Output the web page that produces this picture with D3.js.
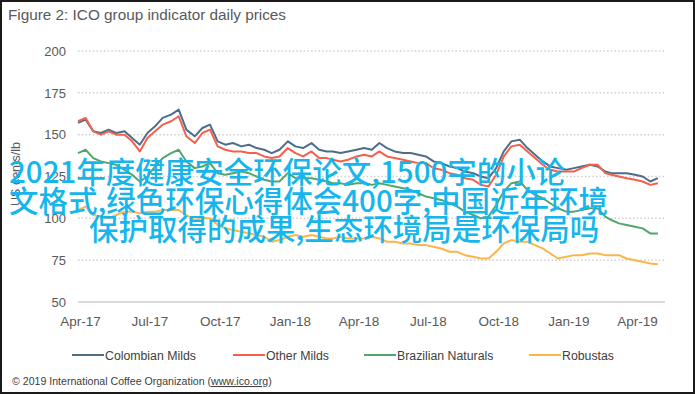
<!DOCTYPE html>
<html>
<head>
<meta charset="utf-8">
<script src="https://cdn.jsdelivr.net/npm/d3@7"></script>
<style>
  html, body { margin: 0; padding: 0; background: #fff; }
  svg { display: block; font-family: "Liberation Sans", Arial, sans-serif; }
</style>
</head>
<body>
<div id="chart"></div>
<script>
// ICO group indicator prices, US cents/lb (~10 day steps)
var dates = [
  "2017-04-01","2017-04-11","2017-04-21","2017-05-01","2017-05-11","2017-05-21",
  "2017-06-01","2017-06-11","2017-06-21","2017-07-01","2017-07-11","2017-07-21",
  "2017-08-01","2017-08-11","2017-08-21","2017-09-01","2017-09-11","2017-09-21",
  "2017-10-01","2017-10-11","2017-10-21","2017-11-01","2017-11-11","2017-11-21",
  "2017-12-01","2017-12-11","2017-12-21","2018-01-01","2018-01-11","2018-01-21",
  "2018-02-01","2018-02-11","2018-02-21","2018-03-01","2018-03-11","2018-03-21",
  "2018-04-01","2018-04-11","2018-04-21","2018-05-01","2018-05-11","2018-05-21",
  "2018-06-01","2018-06-11","2018-06-21","2018-07-01","2018-07-11","2018-07-21",
  "2018-08-01","2018-08-11","2018-08-21","2018-09-01","2018-09-11","2018-09-21",
  "2018-10-01","2018-10-11","2018-10-21","2018-11-01","2018-11-11","2018-11-21",
  "2018-12-01","2018-12-11","2018-12-21","2019-01-01","2019-01-11","2019-01-21",
  "2019-02-01","2019-02-11","2019-02-21","2019-03-01","2019-03-11","2019-03-21",
  "2019-04-01","2019-04-11","2019-04-21","2019-05-01"
];
var colombianMilds = [
  157,159,152, 151,153,151, 152,148,144, 151,155,160,
  162,165,153, 149,154,156, 146,144,145, 143,144,142,
  141,139,141, 146,143,142, 145,141,140, 140,139,140,
  141,142,141, 145,142,140, 139,139,138, 137,134,133,
  131,130,128, 127,125,124, 130,140,146, 147,142,138,
  134,131,130, 129,130,131, 132,131,128, 127,127,127,
  126,125,122, 124
];
var otherMilds = [
  158,160,152, 150,152,150, 150,146,140, 148,152,156,
  158,161,149, 145,151,153, 143,141,140, 140,139,139,
  137,136,137, 142,139,137, 140,136,136, 135,134,135,
  137,138,137, 140,137,136, 135,134,133, 133,130,129,
  127,126,124, 123,120,119, 126,137,143, 144,140,136,
  132,129,128, 128,128,130, 132,132,127, 126,125,124,
  123,122,120, 121
];
var brazilianNaturals = [
  139,141,136, 134,133,132, 129,126,122, 125,131,136,
  139,141,134, 130,131,133, 127,126,127, 128,127,125,
  123,122,122, 127,124,124, 124,123,122, 121,121,120,
  121,121,120, 121,120,119, 118,117,115, 113,112,111,
  109,107,104, 102,100,101, 108,116,121, 122,117,114,
  112,109,106, 104,104,105, 106,106,101, 99,97,96,
  95,94,91, 91
];
var robustas = [
  105,107,102, 101,100,102, 104,104,103, 104,104,105,
  105,105,102, 99,100,100, 96,94,93, 92,91,90,
  89,86,87, 89,90,89, 90,89,88, 88,89,88,
  88,88,89, 88,86,86, 85,85,84, 84,83,82,
  80,80,78, 77,76,76, 80,85,87, 86,86,84,
  82,79,76, 77,78,78, 79,79,78, 78,78,76,
  75,74,73, 72.5
];
var seriesNames = ["Colombian Milds", "Other Milds", "Brazilian Naturals", "Robustas"];
var seriesColors = ["#4E6E88", "#F4604B", "#52A66C", "#FDB549"];
var yTicks = [50, 75, 100, 125, 150, 175, 200];
var xTickDates = ["2017-04-01","2017-07-01","2017-10-01","2018-01-01","2018-04-01",
                  "2018-07-01","2018-10-01","2019-01-01","2019-04-01"];
var xTickLabels = ["Apr-17","Jul-17","Oct-17","Jan-18","Apr-18","Jul-18","Oct-18","Jan-19","Apr-19"];
var overlayLines = [
  "2021年度健康安全环保论文,1500字的小论",
  "文格式,绿色环保心得体会400字,中国近年环境",
  "保护取得的成果,生态环境局是环保局吗"
];

var W = 695, H = 394;
var parse = d3.timeParse("%Y-%m-%d");
var svg = d3.select("#chart").append("svg").attr("width", W).attr("height", H);

svg.append("rect").attr("x", 1).attr("y", 1).attr("width", W - 2).attr("height", H - 2)
   .attr("fill", "#fff").attr("stroke", "#1a1a1a").attr("stroke-width", 2);

svg.append("text").attr("x", 8).attr("y", 20)
   .attr("font-size", 15.3).attr("fill", "#595959")
   .text("Figure 2: ICO group indicator daily prices");

var x = d3.scaleTime()
  .domain([parse("2017-04-01"), parse("2019-04-01")])
  .range([78, 635]);
var y = d3.scaleLinear().domain([50, 200]).range([302, 51]);

// gridlines
svg.append("g").selectAll("line").data(yTicks).enter().append("line")
   .attr("x1", 78).attr("x2", 665)
   .attr("y1", function(d){ return y(d); }).attr("y2", function(d){ return y(d); })
   .attr("stroke", "#CFCFCF")
   .attr("stroke-width", function(d){ return d === 50 ? 1.5 : 1.5; })
   .attr("stroke-dasharray", function(d){ return d === 50 ? null : "1.5,2.2"; });

// y axis labels
var yAxis = svg.append("g").attr("transform", "translate(66,0)")
  .call(d3.axisLeft(y).tickValues(yTicks).tickSize(0).tickPadding(0));
yAxis.select(".domain").remove();
yAxis.selectAll("text").attr("font-size", 13).attr("fill", "#595959")
  .attr("font-family", "Liberation Sans, Arial, sans-serif");

svg.append("text").attr("transform", "translate(20,174) rotate(-90)")
   .attr("text-anchor", "middle").attr("font-size", 12.5).attr("fill", "#595959")
   .text("US cents/lb");

// x axis labels
var xAxis = svg.append("g").attr("transform", "translate(2,316)")
  .call(d3.axisBottom(x).tickValues(xTickDates.map(parse)).tickSize(0).tickPadding(0)
    .tickFormat(function(d, i){ return xTickLabels[i]; }));
xAxis.select(".domain").remove();
xAxis.selectAll("text").attr("font-size", 13.5).attr("fill", "#595959")
  .attr("font-family", "Liberation Sans, Arial, sans-serif");

// lines
var allSeries = [colombianMilds, otherMilds, brazilianNaturals, robustas];
var line = d3.line()
  .x(function(d, i){ return x(parse(dates[i])); })
  .y(function(d){ return y(d); });
svg.append("g").selectAll("path").data(allSeries).enter().append("path")
   .attr("d", line).attr("fill", "none")
   .attr("stroke", function(d, i){ return seriesColors[i]; })
   .attr("stroke-width", 2).attr("stroke-linejoin", "round");

// legend
var legendX = [72, 233, 364, 529];
var legend = svg.append("g").selectAll("g").data(seriesNames).enter().append("g")
  .attr("transform", function(d, i){ return "translate(" + legendX[i] + ",355)"; });
legend.append("line").attr("x1", 0).attr("x2", 32).attr("y1", 0).attr("y2", 0)
  .attr("stroke", function(d, i){ return seriesColors[i]; }).attr("stroke-width", 2);
legend.append("text").attr("x", 33).attr("y", 4.5).attr("font-size", 12.3).attr("fill", "#404040")
  .text(function(d){ return d; });

// footer
var foot = svg.append("text").attr("x", 12).attr("y", 385).attr("font-size", 10.6).attr("fill", "#404040");
foot.append("tspan").text("\u00A9 2019 International Coffee Organization (");
foot.append("tspan").attr("text-decoration", "underline").text("www.ico.org");
foot.append("tspan").text(")");

// overlay text
var overlayX = [9, 9, 89];
svg.append("g").selectAll("text").data(overlayLines).enter().append("text")
   .attr("x", function(d, i){ return overlayX[i]; })
   .attr("y", function(d, i){ return 183 + i * 28.5; })
   .attr("font-family", "Noto Sans CJK SC, sans-serif")
   .attr("font-size", 29.5).attr("font-weight", 500).attr("fill", "#16B6EC")
   .text(function(d){ return d; });
</script>
</body>
</html>
